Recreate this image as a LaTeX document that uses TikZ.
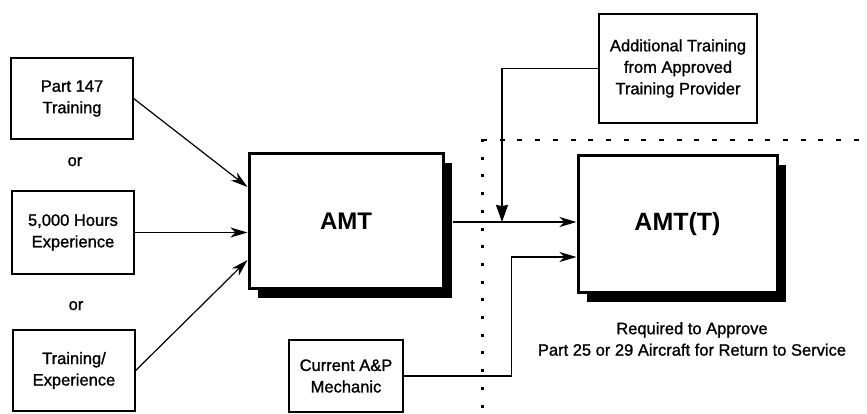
\documentclass[tikz,border=0pt]{standalone}
\usepackage{fontspec}
\setmainfont{Liberation Sans}
\newfontfamily\heavy[FakeBold=1.2]{Liberation Sans}
\usetikzlibrary{arrows.meta,shadows,calc}
\begin{document}
\begin{tikzpicture}[x=1pt,y=-1pt,
  box/.style={draw, line width=1.3pt, inner sep=0pt, align=center, font=\heavy\fontsize{16.5}{21.5}\selectfont},
  bigbox/.style={draw, line width=3pt, fill=white, inner sep=0pt, font=\fontsize{24}{28}\selectfont\bfseries,
    drop shadow={shadow xshift=9pt, shadow yshift=-9pt, fill=black, opacity=1}},
  conn/.style={line width=1.2pt, -{Stealth[length=17pt,width=10pt,inset=5pt]}},
  downarr/.style={line width=1.2pt, -{Stealth[length=17pt,width=12pt,inset=1pt]}},
  lbl/.style={font=\heavy\fontsize{16.5}{21.5}\selectfont, inner sep=0pt},
  dotline/.style={line width=3pt, dash pattern=on 3pt off 14.7pt},
  dashline/.style={line width=1.5pt, dash pattern=on 5pt off 12.7pt}]
\useasboundingbox (0,0) rectangle (867,413);

\node[box, minimum width=122pt, minimum height=81pt] (p147) at (72,98.5) {Part 147\\Training};
\node[box, minimum width=122pt, minimum height=83pt] (h5000) at (73,232.5) {5,000 Hours\\Experience};
\node[box, minimum width=122pt, minimum height=81pt] (tre) at (74,370.5) {Training/\\Experience};
\node[lbl, anchor=base] (or1) at (75,166) {or};
\node[lbl, anchor=base] (or2) at (76,310) {or};

\node[bigbox, minimum width=194pt, minimum height=135pt] (amt) at (346,221) {AMT};
\node[bigbox, minimum width=199pt, minimum height=137pt, font=\fontsize{25}{29}\selectfont\bfseries] (amtt) at (677.5,224) {AMT(T)};

\node[box, minimum width=158pt, minimum height=109pt] (add) at (678,68.5) {Additional Training\\from Approved\\Training Provider};
\node[box, minimum width=114pt, minimum height=72pt] (ap) at (346,376) {Current A\&P\\Mechanic};
\node[lbl, align=center] (cap) at (692,339) {Required to Approve\\Part 25 or 29 Aircraft for Return to Service};

\draw[dotline] (482,139) -- (482,413);
\draw[dashline] (482,140) -- (867,140);

\draw[conn] (p147.east) -- ([yshift=34pt]amt.west);
\draw[conn] (h5000.east) -- (h5000.east -| amt.west);
\draw[conn] (tre.east) -- ([yshift=-39pt]amt.west);
\draw[conn] ([xshift=8pt,yshift=-1pt]amt.east) -- ([yshift=-1pt]amt.east -| amtt.west);
\coordinate (j) at (502,222);
\draw[downarr] (add.west) -| (j);
\draw[conn] (ap.east) -- ++(108,0) |- ([yshift=-33pt]amtt.west);
\end{tikzpicture}
\end{document}
